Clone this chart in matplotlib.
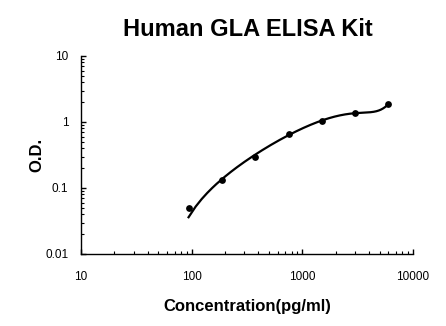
import numpy as np
import matplotlib
matplotlib.use("Agg")
import matplotlib.pyplot as plt
from matplotlib.ticker import LogLocator, NullFormatter, FixedLocator, FixedFormatter

plt.rcParams['font.family'] = ['Liberation Sans', 'DejaVu Sans']

# Standard curve data
concentration = [93.75, 187.5, 375, 750, 1500, 3000, 6000]
od = [0.050, 0.132, 0.295, 0.65, 1.05, 1.36, 1.87]

x_ticks = [10, 100, 1000, 10000]
x_tick_labels = ["10", "100", "1000", "10000"]
y_ticks = [0.01, 0.1, 1, 10]
y_tick_labels = ["0.01", "0.1", "1", "10"]

fig = plt.figure(figsize=(4.46, 3.26), dpi=100)
ax = fig.add_axes([81 / 446, 1 - 254 / 326, (413 - 81) / 446, (254 - 56) / 326])

# Third-order polynomial regression of O.D. on concentration
coef = np.polyfit(concentration, od, 3)
xs = np.linspace(concentration[0], concentration[-1], 400)
ax.plot(xs, np.polyval(coef, xs), color='black', lw=1.6, zorder=2)
ax.scatter(concentration, od, s=24, color='black', zorder=3, linewidths=0)

ax.set_xscale('log')
ax.set_yscale('log')
ax.set_xlim(10, 10000)
ax.set_ylim(0.01, 10)

ax.xaxis.set_major_locator(FixedLocator(x_ticks))
ax.xaxis.set_major_formatter(FixedFormatter(x_tick_labels))
ax.yaxis.set_major_locator(FixedLocator(y_ticks))
ax.yaxis.set_major_formatter(FixedFormatter(y_tick_labels))
ax.xaxis.set_minor_locator(LogLocator(base=10, subs=np.arange(2, 10)))
ax.yaxis.set_minor_locator(LogLocator(base=10, subs=np.arange(2, 10)))
ax.xaxis.set_minor_formatter(NullFormatter())
ax.yaxis.set_minor_formatter(NullFormatter())

for side in ['top', 'right']:
    ax.spines[side].set_visible(False)
for side in ['left', 'bottom']:
    ax.spines[side].set_linewidth(1.0)

ax.tick_params(axis='x', which='major', direction='in', length=3.3, width=1, labelsize=8.5, pad=12)
ax.tick_params(axis='x', which='minor', direction='in', length=2.3, width=0.8)
ax.tick_params(axis='y', which='major', direction='in', length=3.3, width=1, labelsize=8.5, pad=9)
ax.tick_params(axis='y', which='minor', direction='in', length=2.3, width=0.8)

ax.set_xlabel("Concentration(pg/ml)", fontsize=12, fontweight='bold', labelpad=12)
fig.text(37 / 446, 1 - 155 / 326, "O.D.", fontsize=12, fontweight='bold',
         rotation=90, ha='center', va='center')
fig.text(248 / 446, 1 - 30 / 326, "Human GLA ELISA Kit", fontsize=17, fontweight='bold',
         ha='center', va='center')

fig.savefig("out.png", dpi=100, facecolor='white')
